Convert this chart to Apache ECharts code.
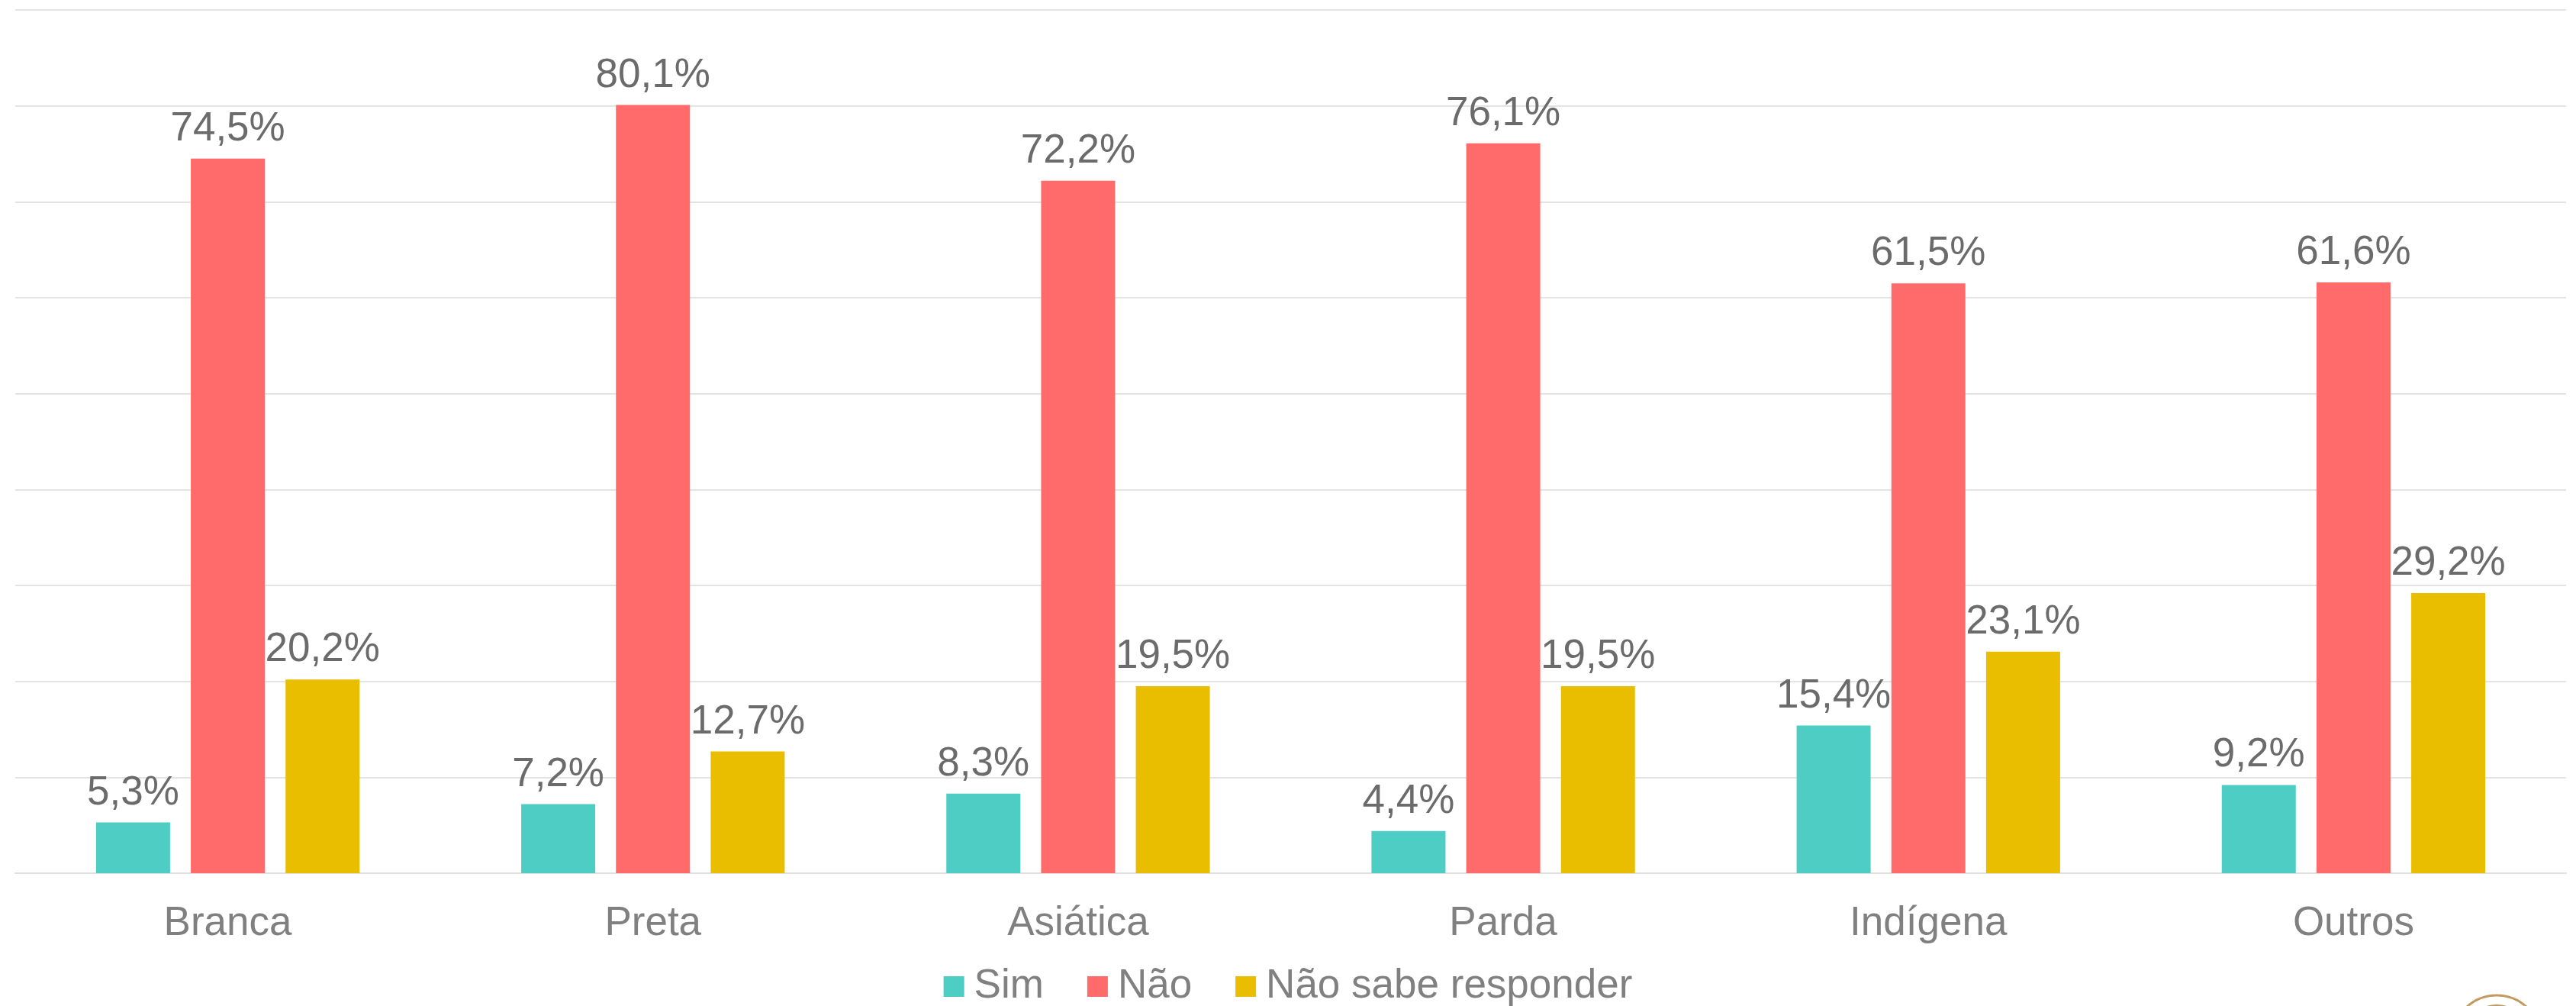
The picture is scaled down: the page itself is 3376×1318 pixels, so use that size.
<!DOCTYPE html>
<html>
<head>
<meta charset="utf-8">
<script src="https://cdn.jsdelivr.net/npm/echarts@6/dist/echarts.min.js"></script>
<style>
  html, body { margin: 0; padding: 0; background: #fff; }
  #main { width: 3376px; height: 1318px; }
</style>
</head>
<body>
<div id="main"></div>
<script>
var categorias = ['Branca', 'Preta', 'Asiática', 'Parda', 'Indígena', 'Outros'];
var sim = [5.3, 7.2, 8.3, 4.4, 15.4, 9.2];
var nao = [74.5, 80.1, 72.2, 76.1, 61.5, 61.6];
var naoSabe = [20.2, 12.7, 19.5, 19.5, 23.1, 29.2];
var nomes = ['Sim', 'Não', 'Não sabe responder'];
var cores = ['#4ECDC4', '#FF6B6B', '#EABE00'];

var FONTE = 'Liberation Sans, Arial, sans-serif';

function fmt(p) {
  return p.value.toFixed(1).replace('.', ',') + '%';
}

function serie(nome, dados) {
  return {
    name: nome,
    type: 'bar',
    barWidth: 97,
    barGap: '28%',
    data: dados,
    label: {
      show: true,
      position: 'top',
      distance: 12,
      formatter: fmt,
      color: '#6b6b6b',
      fontSize: 53,
      fontFamily: FONTE
    }
  };
}

var myChart = echarts.init(document.getElementById('main'));
var Options = {
  animation: false,
  color: cores,
  legend: {
    bottom: -6,
    left: 'center',
    itemWidth: 27,
    itemHeight: 27,
    itemGap: 57,
    icon: 'rect',
    data: nomes,
    textStyle: {
      color: '#808080',
      fontSize: 53,
      fontFamily: FONTE,
      padding: [0, 0, 0, 8]
    }
  },
  grid: {
    left: 20,
    right: 13,
    top: 13,
    bottom: 174,
    containLabel: false
  },
  xAxis: [{
    type: 'category',
    data: categorias,
    axisTick: { show: false },
    axisLine: { lineStyle: { color: '#e0e0e0', width: 2 } },
    axisLabel: {
      color: '#808080',
      fontSize: 53,
      fontFamily: FONTE,
      margin: 40
    }
  }],
  yAxis: [{
    type: 'value',
    min: 0,
    max: 90,
    interval: 10,
    axisLabel: { show: false },
    axisLine: { show: false },
    axisTick: { show: false },
    splitLine: { lineStyle: { color: '#e3e3e3', width: 2 } }
  }],
  graphic: [{
    type: 'circle',
    shape: { cx: 3272, cy: 1362, r: 58 },
    style: { fill: 'none', stroke: '#C49A5E', lineWidth: 3 }
  }, {
    type: 'circle',
    shape: { cx: 3272, cy: 1362, r: 46 },
    style: { fill: '#C49A5E' }
  }],
  series: [
    serie(nomes[0], sim),
    serie(nomes[1], nao),
    serie(nomes[2], naoSabe)
  ]
};
myChart.setOption(Options);
</script>
</body>
</html>
